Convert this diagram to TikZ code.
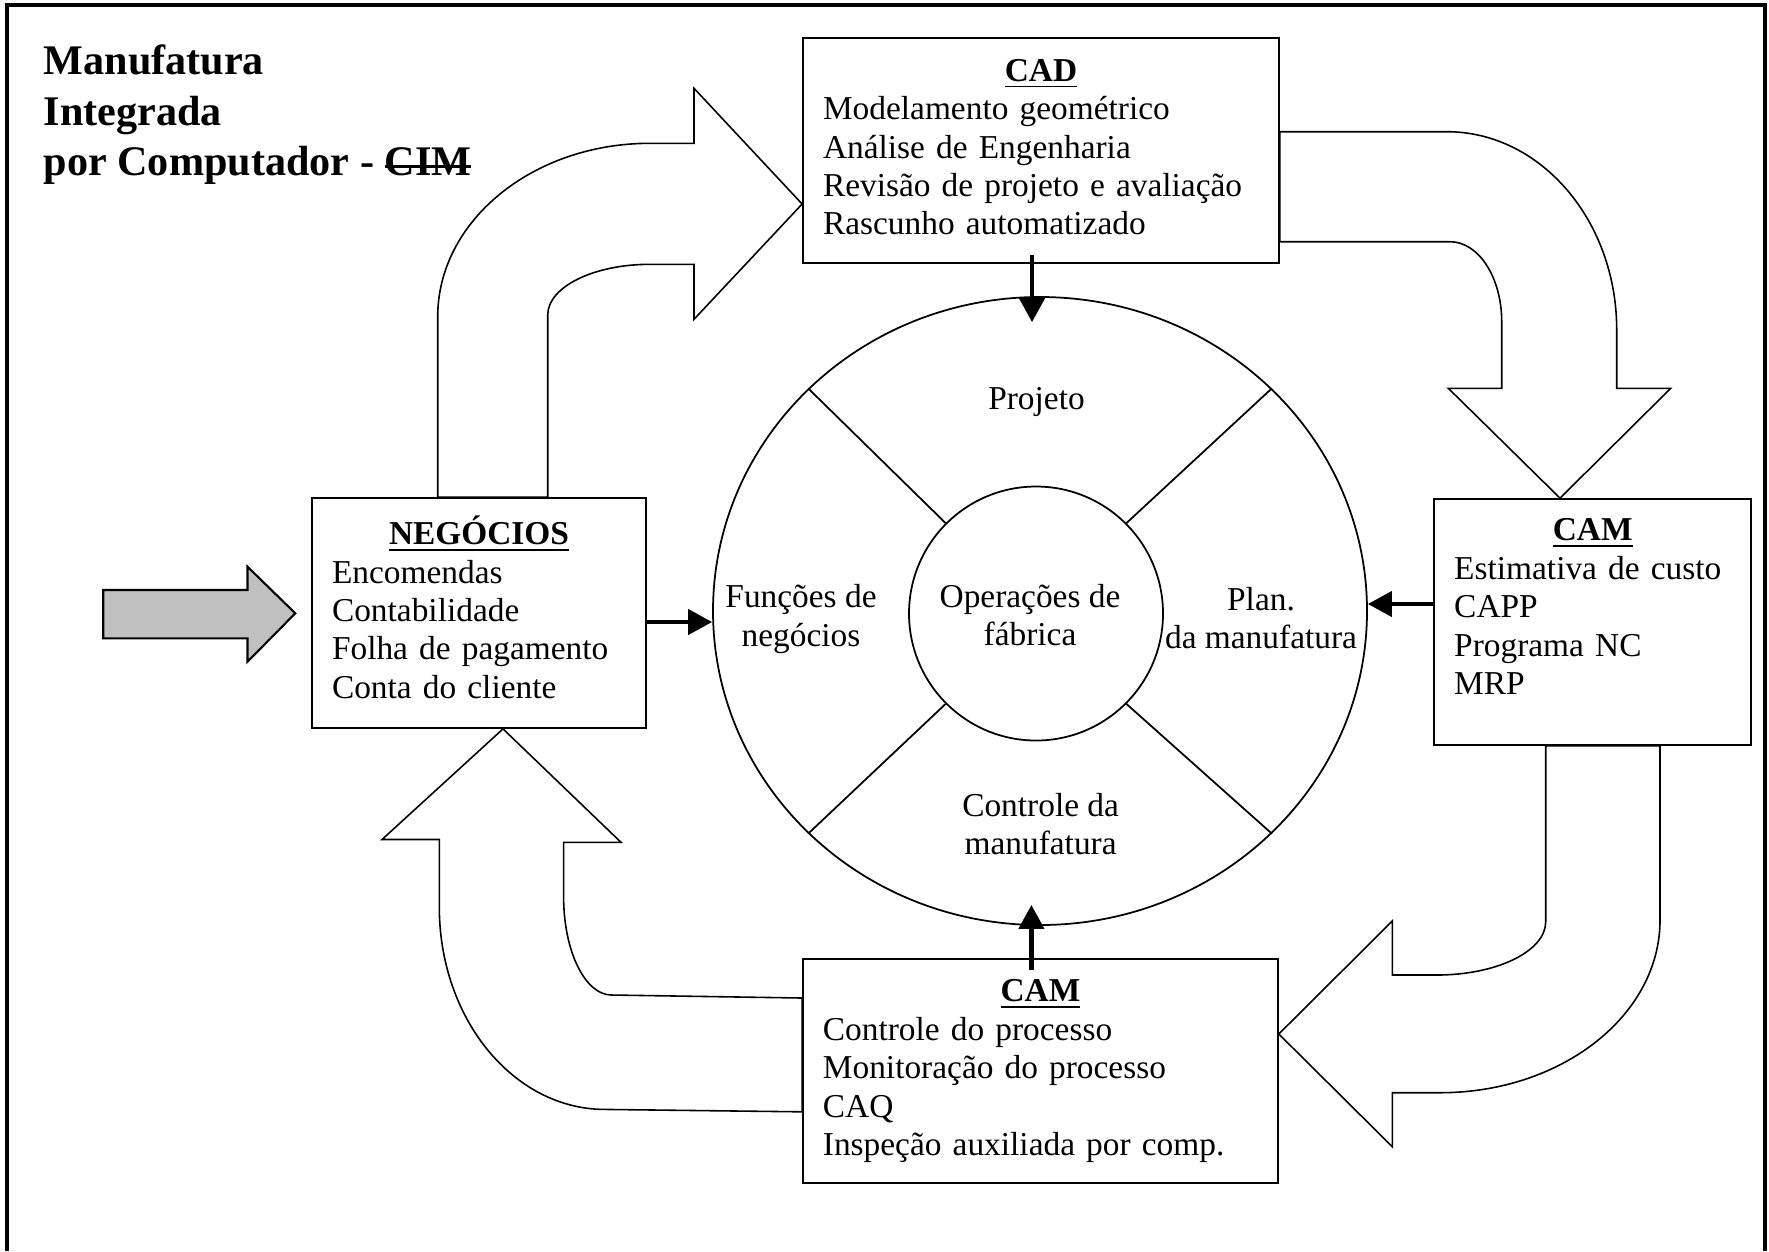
\documentclass[tikz,border=0pt]{standalone}
\usepackage{fontspec}
\setmainfont{Liberation Serif}
\usetikzlibrary{shapes.geometric,arrows.meta}

\definecolor{cinza}{RGB}{192,192,192}
\newcommand{\corpo}{\fontsize{9.5}{10.92}\selectfont}
\newcommand{\cab}[1]{\makebox[\hsize]{\strut\textbf{\underline{#1}}}}
\newsavebox{\riscobox}
\newcommand{\riscado}[1]{\sbox{\riscobox}{#1}\rlap{\usebox{\riscobox}}\rule[2.3pt]{\wd\riscobox}{0.6pt}}

\begin{document}
\begin{tikzpicture}[x=0.1mm,y=-0.1mm,
  bloco/.style={draw,line width=0.45pt,fill=white},
  caixa/.style={draw,line width=0.5pt,fill=white,rectangle,align=left,inner xsep=2mm,inner ysep=0pt,font=\corpo},
  rotulo/.style={align=center,inner sep=0pt,font=\corpo},
  seta/.style={-{Triangle[length=2.4mm,width=2.5mm]},line width=1.2pt}]
\useasboundingbox (0,0) rectangle (1769,1251);
\draw[line width=0.9pt] (7,1251) -- (7,5) -- (1765,5) -- (1765,1251);

\node[anchor=north west,inner sep=0pt,align=left,font=\fontsize{12}{14.4}\selectfont\bfseries] (titulo) at (43,44)
  {Manufatura\\Integrada\\por Computador - \riscado{CIM}};

% caixas
\node[caixa,text width=4.36cm,minimum width=4.76cm,minimum height=2.25cm] (cad) at (1041,150.5)
  {\cab{CAD}\\Modelamento geométrico\\Análise de Engenharia\\Revisão de projeto e avaliação\\Rascunho automatizado\strut};
\node[caixa,text width=2.94cm,minimum width=3.34cm,minimum height=2.30cm] (neg) at (479,613)
  {\cab{NEGÓCIOS}\\Encomendas\\Contabilidade\\Folha de pagamento\\Conta do cliente\strut};
\node[caixa,text width=2.77cm,minimum width=3.17cm,minimum height=2.46cm] (camr) at (1592.7,622)
  {\cab{CAM}\\Estimativa de custo\\CAPP\\Programa NC\\MRP\strut\par\vspace{2.4mm}\hrule height 0pt};
\node[caixa,text width=4.35cm,minimum width=4.75cm,minimum height=2.24cm] (cambot) at (1040.4,1071)
  {\cab{CAM}\\Controle do processo\\Monitoração do processo\\CAQ\\Inspeção auxiliada por comp.\strut};

% setas largas
\draw[bloco] (437.7,0 |- neg.north) -- (437.7,316.7)
  arc[start angle=180,end angle=270,x radius=212.3,y radius=173.4]
  -- (694,143.3) -- (694,88.3) -- (cad.west |- 0,204) -- (694,319.3) -- (694,264.3) -- (650,264.3)
  arc[start angle=270,end angle=180,x radius=102.3,y radius=50.7]
  -- (547.7,0 |- neg.north) -- cycle;
\draw[bloco] (cad.east |- 0,131.7) -- (1446.7,131.7)
  arc[start angle=270,end angle=360,x radius=170,y radius=198.3]
  -- (1616.7,388.3) -- (1670.7,388.3) -- (1560,0 |- camr.north) -- (1448.3,388.3) -- (1501.7,388.3) -- (1501.7,321.7)
  arc[start angle=0,end angle=-90,x radius=51.7,y radius=80]
  -- (cad.east |- 0,241.7) -- cycle;
\draw[bloco] (1545.7,0 |- camr.south) -- (1545.7,921.7)
  arc[start angle=0,end angle=90,x radius=109,y radius=53.3]
  -- (1392.3,975) -- (1392.3,921) -- (cambot.east |- 0,1034) -- (1392.3,1146.7) -- (1392.3,1092.7) -- (1440,1092.7)
  arc[start angle=90,end angle=0,x radius=220,y radius=172.7]
  -- (1660,0 |- camr.south) -- cycle;
\draw[bloco] (cambot.west |- 0,998) -- (611.5,995)
  arc[start angle=90,end angle=180,x radius=47.9,y radius=98.2]
  -- (563.6,842.3) -- (621,842.3) -- (503,0 |- neg.south) -- (382,839.5) -- (439.3,839.5) -- (439.3,907)
  arc[start angle=180,end angle=90,x radius=165.7,y radius=202.4]
  -- (cambot.west |- 0,1111.8) -- cycle;
\draw[line width=0.6pt,fill=cinza] (103.3,590) -- (247.5,590) -- (247.5,566.7) -- (295.3,613.3)
  -- (247.5,661.7) -- (247.5,638.3) -- (103.3,638.3) -- cycle;

% roda
\node[ellipse,draw,line width=0.5pt,minimum width=6.54cm,minimum height=6.28cm,inner sep=0pt] (roda) at (1040,611) {};
\node[circle,draw,line width=0.5pt,minimum size=2.54cm,inner sep=0pt] (nucleo) at (1036,613.5) {};
\foreach \canto in {north west,north east,south west,south east}
  \draw[line width=0.5pt] (roda.\canto) -- (nucleo.\canto);

\node[rotulo] (operacoes) at (1030,615) {Operações de\\fábrica};
\node[rotulo] (projeto) at (1036.5,402) {Projeto};
\node[rotulo] (funcoes) at (801,619) {Funções de\\negócios};
\node[rotulo] (plan) at (1261,618) {Plan.\\da manufatura};
\node[rotulo] (controle) at (1040.6,824) {Controle da\\manufatura};

% setas finas
\coordinate (saicad) at ([xshift=-0.9mm]cad.south);
\coordinate (saineg) at ([yshift=-0.9mm]neg.east);
\coordinate (saicamr) at ([yshift=1.8mm]camr.west);
\coordinate (saicamb) at ([xshift=-0.9mm]cambot.north);
\draw[seta,shorten <=-0.9mm,shorten >=-2.6mm] (saicad) -- (saicad |- roda.north);
\draw[seta] (saineg) -- (roda.west |- saineg);
\draw[seta] (saicamr) -- (roda.east |- saicamr);
\draw[seta,shorten <=-1.2mm,shorten >=-2.1mm] (saicamb) -- (saicamb |- roda.south);
\end{tikzpicture}
\end{document}
